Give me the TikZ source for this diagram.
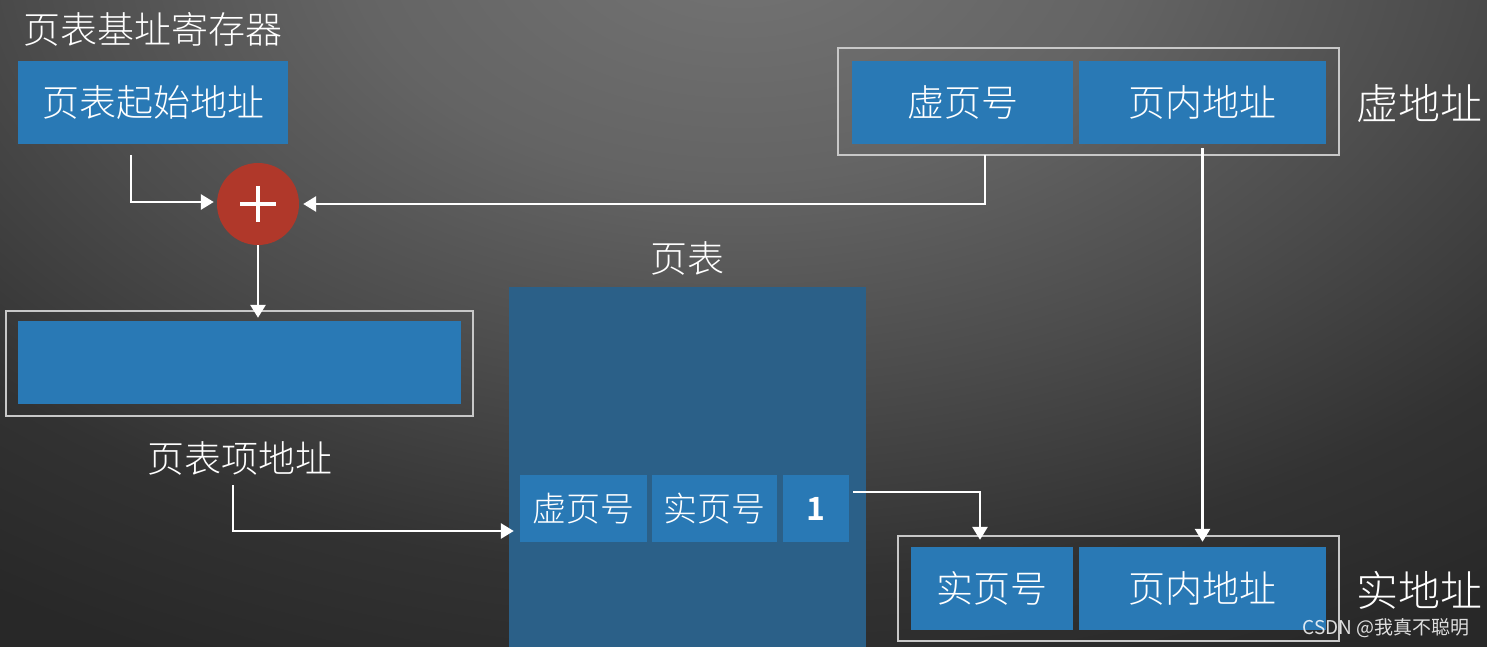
\documentclass[tikz,border=0pt]{standalone}
\usepackage{fontspec}
\setmainfont{Noto Sans CJK SC}[UprightFont=* Light, BoldFont=* Bold]
\newfontfamily\wmfont{Noto Sans CJK SC}
\usetikzlibrary{arrows.meta,shadings}
\definecolor{cellblue}{RGB}{41,121,181}
\definecolor{tableblue}{RGB}{43,96,136}
\definecolor{adderred}{RGB}{176,56,42}
\definecolor{framegray}{RGB}{200,200,200}
\definecolor{bgA}{RGB}{116,116,116}
\definecolor{bgB}{RGB}{100,100,100}
\definecolor{bgC}{RGB}{76,76,76}
\definecolor{bgD}{RGB}{50,50,50}
\definecolor{bgE}{RGB}{40,40,40}
% the path is mapped onto the central 50bp square, so its rim sits at 25bp
\pgfdeclareradialshading{backglow}{\pgfpoint{0bp}{0bp}}{%
  color(0bp)=(bgA); color(7.5bp)=(bgB); color(13.75bp)=(bgC); color(20bp)=(bgD); color(25bp)=(bgE); color(50bp)=(bgE)}
\begin{document}
\begin{tikzpicture}[x=1pt,y=-1pt,
  cell/.style={fill=cellblue, draw=none, minimum width=#1, inner sep=0pt},
  frame/.style={draw=framegray, line width=1.4pt, fill=none, inner sep=0pt},
  lbl/.style={text=white, font=\fontsize{37}{40}\selectfont, inner sep=0pt},
  biglbl/.style={text=white, font=\fontsize{42}{46}\selectfont, inner sep=0pt},
  celltxt/.style={text=white, font=\fontsize{35}{40}\selectfont},
  arr/.style={draw=white, line width=2.8pt, -{Triangle[length=13pt,width=15pt]}},
]
\useasboundingbox (0,0) rectangle (1487,647);
\clip (0,0) rectangle (1487,647);

% backdrop: dark base with a wide glow from the top centre
\fill[bgE] (0,0) rectangle (1487,647);
\shade[shading=backglow] (740,-60) ellipse (1300 and 800);

% page table base register
\node[lbl] (reglabel) at (153,29) {页表基址寄存器};
\node[cell=270pt, minimum height=83pt, celltxt, font=\fontsize{37}{40}\selectfont] (reg) at (153,102.5) {页表起始地址};

% adder
\node[circle, fill=adderred, minimum size=82pt, inner sep=0pt] (plus) at (258,204) {};
\draw[white, line width=4pt] (240,204) -- (276,204) (258,186) -- (258,222);

% page table entry address
\node[frame, minimum width=467pt, minimum height=105pt] (pteframe) at (239.5,363.5) {};
\node[cell=443pt, minimum height=83pt] (pte) at (239.5,362.5) {};
\node[lbl] (ptelabel) at (240,458) {页表项地址};

% page table
\node[fill=tableblue, minimum width=357pt, minimum height=373pt, inner sep=0pt] (table) at (687.5,473.5) {};
\node[lbl] (tablelabel) at (687,258) {页表};
\node[cell=127pt, minimum height=67pt, celltxt, font=\fontsize{34}{38}\selectfont] (e1) at (583.5,508.5) {虚页号};
\node[cell=125pt, minimum height=67pt, celltxt, font=\fontsize{34}{38}\selectfont] (e2) at (714.5,508.5) {实页号};
\node[cell=66pt, minimum height=67pt, celltxt, font=\fontsize{32}{36}\selectfont\bfseries] (e3) at (816,508.5) {1};

% virtual address
\node[frame, minimum width=501pt, minimum height=107pt] (vaframe) at (1088.5,101.5) {};
\node[cell=221pt, minimum height=83pt, celltxt, font=\fontsize{37}{40}\selectfont] (vpn) at (962.5,102.5) {虚页号};
\node[cell=247pt, minimum height=83pt, celltxt, font=\fontsize{37}{40}\selectfont] (voff) at (1202.5,102.5) {页内地址};
\node[biglbl] (valabel) at (1419,103) {虚地址};

% physical address
\node[frame, minimum width=441pt, minimum height=105pt] (paframe) at (1118.5,588.5) {};
\node[cell=162pt, minimum height=83pt, celltxt, font=\fontsize{37}{40}\selectfont] (ppn) at (992,588.5) {实页号};
\node[cell=247pt, minimum height=83pt, celltxt, font=\fontsize{37}{40}\selectfont] (poff) at (1202.5,588.5) {页内地址};
\node[biglbl] (palabel) at (1419,590) {实地址};

% connectors
\coordinate (regout) at (131,155);
\coordinate (vpnout) at (985,155);
\coordinate (pteout) at (233,485);
\draw[arr, shorten >=3pt] (regout) |- ([yshift=2pt]plus.west);
\draw[arr, shorten >=4pt] (vpnout) |- (plus.east);
\draw[arr, shorten >=3pt] (plus.south) -- (plus.south |- pte.north);
\draw[arr, shorten >=6pt] (pteout) |- ([yshift=-22.5pt]e1.west);
\draw[arr, shorten <=4pt, shorten >=7pt] ([yshift=16.5pt]e3.east) -| ([xshift=-12pt]ppn.north);
\draw[arr, shorten <=4pt, shorten >=5pt] (voff.south) -- (poff.north);

% watermark
\node[text=white, opacity=0.85, font=\wmfont\fontsize{19}{21}\selectfont, inner sep=0pt] (wm) at (1386,628) {CSDN @我真不聪明};
\end{tikzpicture}
\end{document}
